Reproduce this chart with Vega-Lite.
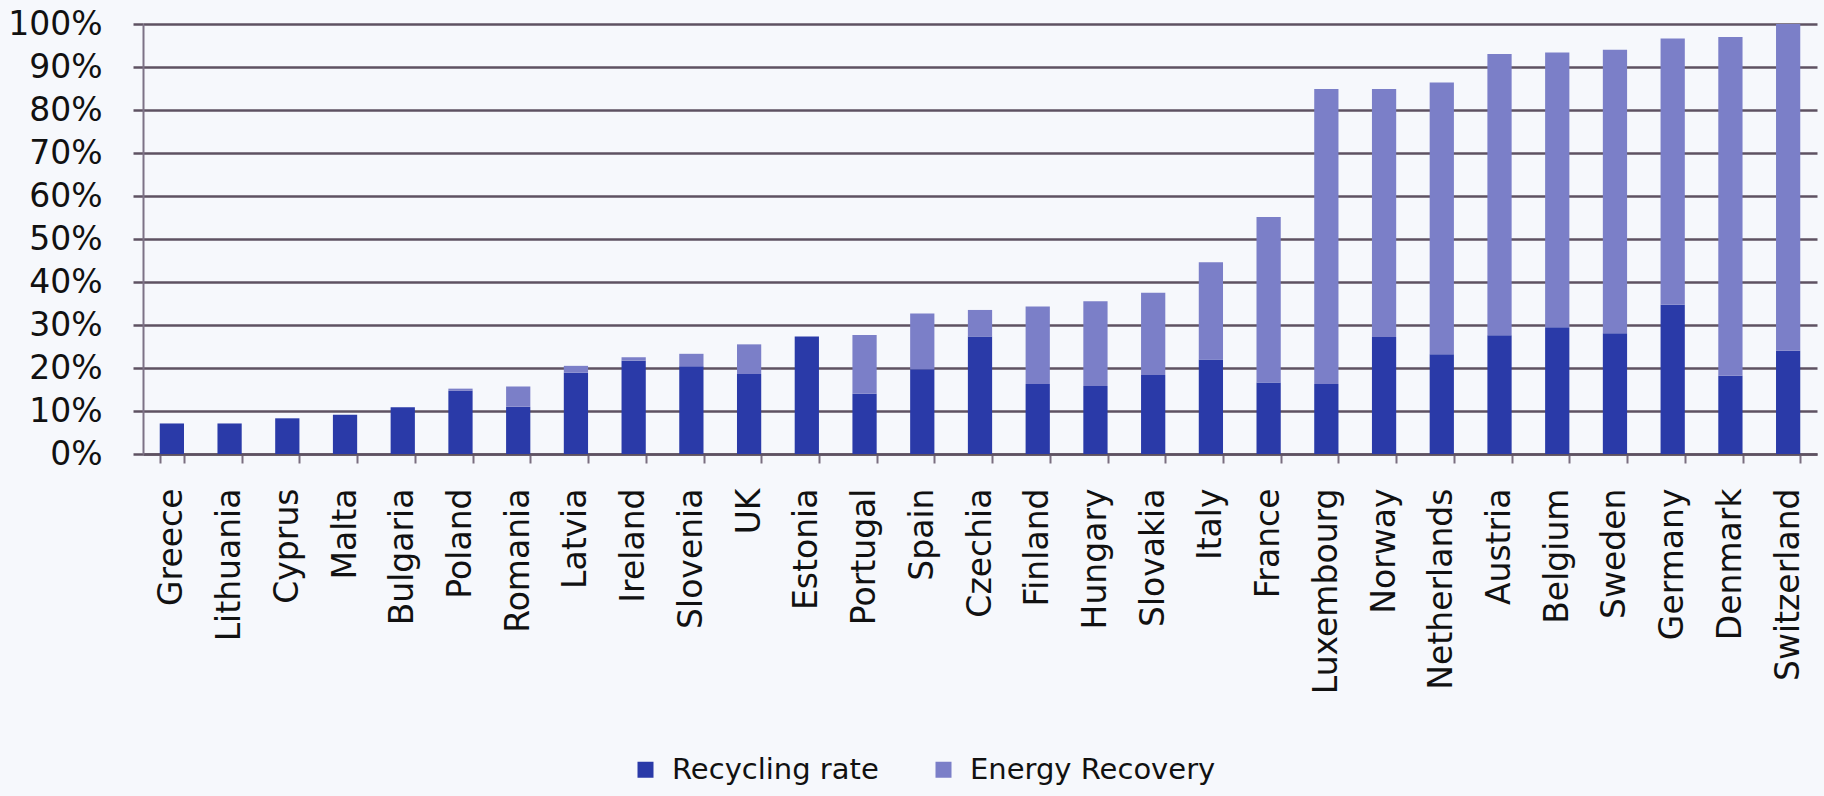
{
  "$schema": "https://vega.github.io/schema/vega-lite/v6.json",
  "autosize": {"type": "none"},
  "padding": {"left": 143, "top": 24, "right": 7, "bottom": 342},
  "width": 1674,
  "height": 430,
  "background": "#f6f8fc",
  "data": {
    "values": [
      {"country": "Greece", "type": "Recycling rate", "share": 7.1},
      {"country": "Greece", "type": "Energy Recovery", "share": 0},
      {"country": "Lithuania", "type": "Recycling rate", "share": 7.1},
      {"country": "Lithuania", "type": "Energy Recovery", "share": 0},
      {"country": "Cyprus", "type": "Recycling rate", "share": 8.3},
      {"country": "Cyprus", "type": "Energy Recovery", "share": 0},
      {"country": "Malta", "type": "Recycling rate", "share": 9.1},
      {"country": "Malta", "type": "Energy Recovery", "share": 0},
      {"country": "Bulgaria", "type": "Recycling rate", "share": 10.9},
      {"country": "Bulgaria", "type": "Energy Recovery", "share": 0},
      {"country": "Poland", "type": "Recycling rate", "share": 14.7},
      {"country": "Poland", "type": "Energy Recovery", "share": 0.5},
      {"country": "Romania", "type": "Recycling rate", "share": 11.0},
      {"country": "Romania", "type": "Energy Recovery", "share": 4.7},
      {"country": "Latvia", "type": "Recycling rate", "share": 18.9},
      {"country": "Latvia", "type": "Energy Recovery", "share": 1.6},
      {"country": "Ireland", "type": "Recycling rate", "share": 21.7},
      {"country": "Ireland", "type": "Energy Recovery", "share": 0.8},
      {"country": "Slovenia", "type": "Recycling rate", "share": 20.4},
      {"country": "Slovenia", "type": "Energy Recovery", "share": 2.9},
      {"country": "UK", "type": "Recycling rate", "share": 18.6},
      {"country": "UK", "type": "Energy Recovery", "share": 6.9},
      {"country": "Estonia", "type": "Recycling rate", "share": 27.3},
      {"country": "Estonia", "type": "Energy Recovery", "share": 0},
      {"country": "Portugal", "type": "Recycling rate", "share": 14.0},
      {"country": "Portugal", "type": "Energy Recovery", "share": 13.7},
      {"country": "Spain", "type": "Recycling rate", "share": 19.7},
      {"country": "Spain", "type": "Energy Recovery", "share": 13.0},
      {"country": "Czechia", "type": "Recycling rate", "share": 27.3},
      {"country": "Czechia", "type": "Energy Recovery", "share": 6.2},
      {"country": "Finland", "type": "Recycling rate", "share": 16.3},
      {"country": "Finland", "type": "Energy Recovery", "share": 18.0},
      {"country": "Hungary", "type": "Recycling rate", "share": 15.8},
      {"country": "Hungary", "type": "Energy Recovery", "share": 19.7},
      {"country": "Slovakia", "type": "Recycling rate", "share": 18.4},
      {"country": "Slovakia", "type": "Energy Recovery", "share": 19.1},
      {"country": "Italy", "type": "Recycling rate", "share": 22.0},
      {"country": "Italy", "type": "Energy Recovery", "share": 22.6},
      {"country": "France", "type": "Recycling rate", "share": 16.6},
      {"country": "France", "type": "Energy Recovery", "share": 38.5},
      {"country": "Luxembourg", "type": "Recycling rate", "share": 16.3},
      {"country": "Luxembourg", "type": "Energy Recovery", "share": 68.6},
      {"country": "Norway", "type": "Recycling rate", "share": 27.2},
      {"country": "Norway", "type": "Energy Recovery", "share": 57.7},
      {"country": "Netherlands", "type": "Recycling rate", "share": 23.2},
      {"country": "Netherlands", "type": "Energy Recovery", "share": 63.2},
      {"country": "Austria", "type": "Recycling rate", "share": 27.6},
      {"country": "Austria", "type": "Energy Recovery", "share": 65.4},
      {"country": "Belgium", "type": "Recycling rate", "share": 29.5},
      {"country": "Belgium", "type": "Energy Recovery", "share": 63.9},
      {"country": "Sweden", "type": "Recycling rate", "share": 28.1},
      {"country": "Sweden", "type": "Energy Recovery", "share": 65.9},
      {"country": "Germany", "type": "Recycling rate", "share": 34.7},
      {"country": "Germany", "type": "Energy Recovery", "share": 61.9},
      {"country": "Denmark", "type": "Recycling rate", "share": 18.2},
      {"country": "Denmark", "type": "Energy Recovery", "share": 78.8},
      {"country": "Switzerland", "type": "Recycling rate", "share": 24.0},
      {"country": "Switzerland", "type": "Energy Recovery", "share": 76.0}
    ]
  },
  "mark": {"type": "bar", "orient": "vertical"},
  "encoding": {
    "x": {
      "field": "country",
      "type": "nominal",
      "sort": null,
      "scale": {"paddingInner": 0.58, "paddingOuter": 0.29},
      "axis": {
        "title": null,
        "tickBand": "extent",
        "labelAngle": -90,
        "labelAlign": "right",
        "labelBaseline": "middle",
        "labelFont": "DejaVu Sans",
        "labelFontSize": 33,
        "labelColor": "#111111",
        "labelPadding": 25,
        "labelLimit": 0,
        "tickSize": 9,
        "tickWidth": 2,
        "tickColor": "#7a6e80",
        "domainColor": "#5e5262",
        "domainWidth": 2.5,
        "grid": false
      }
    },
    "y": {
      "field": "share",
      "type": "quantitative",
      "stack": "zero",
      "scale": {"domain": [0, 100], "nice": false},
      "axis": {
        "title": null,
        "values": [0, 10, 20, 30, 40, 50, 60, 70, 80, 90, 100],
        "labelExpr": "datum.value + '%'",
        "labelFont": "DejaVu Sans",
        "labelFontSize": 33,
        "labelColor": "#111111",
        "labelPadding": 31,
        "tickSize": 10,
        "tickWidth": 2.5,
        "tickColor": "#5e5262",
        "domainColor": "#7d7286",
        "domainWidth": 2,
        "grid": true,
        "gridColor": "#5e5262",
        "gridWidth": 2.5,
        "gridOpacity": 1
      }
    },
    "color": {
      "field": "type",
      "type": "nominal",
      "scale": {
        "domain": ["Recycling rate", "Energy Recovery"],
        "range": ["#2a3aa8", "#7b7fc8"]
      },
      "legend": {
        "title": null,
        "orient": "none",
        "direction": "horizontal",
        "legendX": 488,
        "legendY": 731,
        "symbolType": "square",
        "symbolSize": 256,
        "symbolStrokeWidth": 0,
        "labelFont": "DejaVu Sans",
        "labelFontSize": 29,
        "labelColor": "#111111",
        "labelOffset": 12,
        "labelLimit": 0,
        "columnPadding": 50
      }
    },
    "order": {"field": "type", "sort": "descending"}
  },
  "config": {
    "view": {"stroke": null}
  }
}
